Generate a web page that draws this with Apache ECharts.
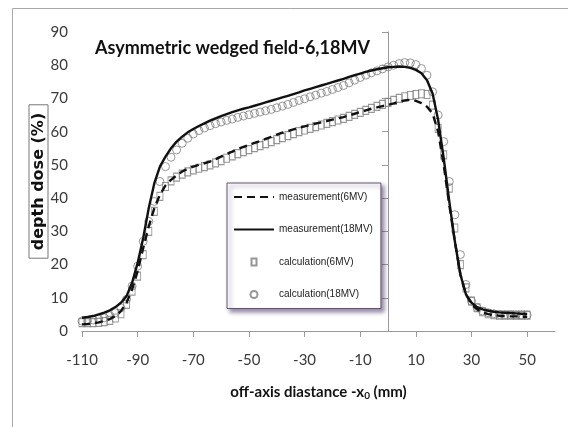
<!DOCTYPE html>
<html>
<head>
<meta charset="utf-8">
<script src="https://cdn.jsdelivr.net/npm/echarts@6/dist/echarts.min.js"></script>
<style>
  html, body { margin: 0; padding: 0; background: #fff; }
  #chart { width: 568px; height: 427px; }
</style>
</head>
<body>
<div id="chart"></div>
<script>
// off-axis positions (mm) shared by all four profiles
const xs = [
  -110, -108, -106, -104, -102, -100, -98, -96, -94, -92,
  -90, -88, -86, -84, -82, -80, -78, -76, -74, -72,
  -70, -68, -66, -64, -62, -60, -58, -56, -54, -52,
  -50, -48, -46, -44, -42, -40, -38, -36, -34, -32,
  -30, -28, -26, -24, -22, -20, -18, -16, -14, -12,
  -10, -8, -6, -4, -2, 0, 2, 4, 6, 8,
  10, 12, 14, 16, 18, 20, 22, 24, 26, 28,
  30, 32, 34, 36, 38, 40, 42, 44, 46, 48,
  50
];

// depth dose (%) — measured, 6 MV
const meas6 = [
  2.0, 2.1, 2.3, 2.6, 3.0, 3.6, 4.5, 6.0, 8.5, 12.5,
  18, 25, 31.5, 37, 41, 43.8, 45.5, 46.8, 48, 48.8,
  49.5, 50, 50.5, 51, 51.7, 52.5, 53.3, 54, 54.8, 55.4,
  56, 56.6, 57.2, 57.8, 58.4, 59.1, 59.7, 60.2, 60.7, 61.2,
  61.6, 62, 62.4, 62.8, 63.2, 63.6, 64, 64.4, 64.9, 65.4,
  65.9, 66.4, 66.9, 67.3, 67.7, 68.1, 68.5, 69, 69.4, 69.6,
  69.3, 68.6, 67.5, 65.5, 60, 50, 38, 27, 17, 11,
  8, 6.5, 5.6, 5.1, 4.8, 4.6, 4.5, 4.4, 4.4, 4.3,
  4.3
];

// depth dose (%) — measured, 18 MV
const meas18 = [
  4.0, 4.2, 4.5, 5.0, 5.5, 6.2, 7.2, 8.5, 10.5, 14.5,
  20.5, 28, 37, 44.5, 49.5, 52.5, 55, 57, 58.5, 59.8,
  60.8, 61.7, 62.5, 63.3, 64, 64.7, 65.3, 65.9, 66.4, 66.9,
  67.3, 67.8, 68.3, 68.8, 69.3, 69.8, 70.3, 70.8, 71.3, 71.8,
  72.4, 72.9, 73.4, 73.9, 74.4, 74.9, 75.4, 75.9, 76.5, 77.0,
  77.5, 78.0, 78.4, 78.8, 79.1, 79.4, 79.5, 79.6, 79.5, 79.2,
  78.6, 77.6, 75.5, 71.5, 63.5, 52, 39, 27, 17, 11,
  8.5, 7.2, 6.5, 6.1, 5.8, 5.6, 5.5, 5.4, 5.3, 5.2,
  5.1
];

// depth dose (%) — calculated, 6 MV
const calc6 = [
  2.5, 2.5, 2.5, 2.6, 2.8, 3.2, 3.9, 5.2, 8, 12,
  16.5, 23, 30, 36, 40.5, 43.5, 45.2, 46.3, 47.2, 47.9,
  48.5, 49, 49.5, 50, 50.6, 51.3, 52, 52.7, 53.4, 54,
  54.6, 55.2, 55.8, 56.4, 57, 57.6, 58.2, 58.8, 59.4, 60,
  60.5, 61, 61.5, 62, 62.5, 63, 63.5, 64, 64.6, 65.2,
  65.8, 66.4, 67, 67.6, 68.2, 68.8, 69.4, 70, 70.5, 70.9,
  71.2, 71.4, 71.2, 68, 61, 53, 43, 31, 20, 13,
  9, 7, 5.8, 5.2, 4.9, 4.8, 4.8, 4.8, 4.8, 4.8,
  4.8
];

// depth dose (%) — calculated, 18 MV
const calc18 = [
  3.0, 3.1, 3.3, 3.6, 4.0, 4.6, 5.5, 7.0, 9.5, 13.5,
  19.5, 27, 33, 39, 45, 49.5, 52.3, 54.5, 56.5, 58,
  59.3, 60.3, 61.1, 61.8, 62.4, 62.9, 63.4, 63.8, 64.3, 64.7,
  65.1, 65.5, 65.9, 66.3, 66.7, 67.2, 67.7, 68.2, 68.8, 69.4,
  69.9, 70.5, 71.0, 71.6, 72.1, 72.7, 73.3, 73.9, 74.7, 75.5,
  76.3, 77.0, 77.7, 78.3, 78.9, 79.5, 80.0, 80.5, 80.8, 80.7,
  80.2, 79, 77, 72, 65, 57, 45, 35, 23, 14,
  9, 7, 6, 5.5, 5.2, 5.0, 4.9, 4.9, 4.8, 4.8,
  4.8
];

const seriesNames = ['measurement(6MV)', 'measurement(18MV)', 'calculation(6MV)', 'calculation(18MV)'];
const xTicks = [-110, -90, -70, -50, -30, -10, 10, 30, 50];

const pairs = (ys) => xs.map((x, i) => [x, ys[i]]);

const labelFont = {
  fontFamily: 'Lato',
  fontSize: 15,
  color: '#3a3a3a'
};

const chart = echarts.init(document.getElementById('chart'), null, { renderer: 'canvas' });

chart.setOption({
  animation: false,
  backgroundColor: '#fff',
  title: {
    text: 'Asymmetric wedged field-6,18MV',
    left: 95,
    top: 39,
    padding: 0,
    textStyle: {
      fontFamily: 'Lato',
      fontWeight: 'bold',
      fontSize: 18,
      color: '#111'
    }
  },
  graphic: [{
    // outer chart-area frame (top and left edges visible)
    type: 'rect',
    shape: { x: 12.5, y: 8.5, width: 700, height: 600 },
    style: { fill: 'none', stroke: '#a8a8a8', lineWidth: 1 },
    silent: true,
    z: -1
  }],
  legend: {
    orient: 'vertical',
    left: 227,
    top: 183,
    padding: [7, 8, 7, 6],
    itemWidth: 40,
    itemHeight: 7,
    itemGap: 18.5,
    backgroundColor: '#fff',
    borderColor: '#5e566c',
    borderWidth: 1,
    shadowColor: 'rgba(70,50,100,0.55)',
    shadowBlur: 4,
    shadowOffsetX: 3,
    shadowOffsetY: 3,
    textStyle: {
      fontFamily: "'Liberation Sans', Arial, sans-serif",
      fontSize: 10,
      lineHeight: 14,
      color: '#222'
    },
    data: [
      { name: seriesNames[0], itemStyle: { opacity: 0 } },
      { name: seriesNames[1], itemStyle: { opacity: 0 } },
      { name: seriesNames[2], icon: 'path://M0,0 L5,0 L5,7 L0,7 Z' },
      { name: seriesNames[3], icon: 'circle' }
    ]
  },
  grid: { left: 82, right: 13, top: 32, bottom: 96 },
  xAxis: {
    type: 'value',
    min: -110,
    max: 60,
    name: '{a|off-axis diastance -x}{s|0}{a| (mm)}',
    nameLocation: 'middle',
    nameGap: 53,
    nameMoveOverlap: false,
    nameTextStyle: {
      rich: {
        a: { fontFamily: 'Lato', fontWeight: 'bold', fontSize: 15, color: '#111' },
        s: { fontFamily: 'Lato', fontWeight: 'bold', fontSize: 10, color: '#111', verticalAlign: 'bottom', padding: [7, 0, 0, 0] }
      }
    },
    splitLine: { show: false },
    axisLine: { onZero: false, lineStyle: { color: '#9a9a9a', width: 1 } },
    axisTick: { show: true, customValues: xTicks, length: 6, lineStyle: { color: '#9a9a9a' } },
    axisLabel: Object.assign({ customValues: xTicks, margin: 22 }, labelFont)
  },
  yAxis: [{
    type: 'value',
    min: 0,
    max: 90,
    interval: 10,
    name: 'depth dose (%)',
    nameLocation: 'middle',
    nameRotate: 90,
    nameGap: 34,
    nameMoveOverlap: false,
    nameTextStyle: {
      fontFamily: 'DejaVu Sans',
      fontWeight: 'bold',
      fontSize: 16,
      color: '#111',
      borderColor: '#777',
      borderWidth: 1,
      padding: [2, 8, 1, 8]
    },
    splitLine: { show: false },
    axisLine: { show: false, onZero: false },
    axisTick: { show: false },
    axisLabel: Object.assign({ margin: 14 }, labelFont)
  }, {
    // value axis drawn through x = 0
    type: 'value',
    min: 0,
    max: 90,
    interval: 10,
    position: 'left',
    splitLine: { show: false },
    axisLine: { show: true, onZero: true, lineStyle: { color: '#9a9a9a', width: 1 } },
    axisTick: { show: true, inside: false, length: 6, lineStyle: { color: '#9a9a9a' } },
    axisLabel: { show: false }
  }],
  series: [
    {
      name: seriesNames[2],
      type: 'scatter',
      data: pairs(calc6),
      symbol: 'rect',
      symbolSize: [6, 8],
      itemStyle: { color: 'rgba(255,255,255,0)', borderColor: '#7c7c7c', borderWidth: 1 },
      z: 2
    },
    {
      name: seriesNames[3],
      type: 'scatter',
      data: pairs(calc18),
      symbol: 'circle',
      symbolSize: 8,
      itemStyle: { color: 'rgba(255,255,255,0)', borderColor: '#7c7c7c', borderWidth: 1 },
      z: 2
    },
    {
      name: seriesNames[0],
      type: 'line',
      data: pairs(meas6),
      showSymbol: false,
      symbol: 'none',
      lineStyle: { color: '#111', width: 2.4, type: [8, 5] },
      itemStyle: { color: '#111' },
      z: 3
    },
    {
      name: seriesNames[1],
      type: 'line',
      data: pairs(meas18),
      showSymbol: false,
      symbol: 'none',
      lineStyle: { color: '#111', width: 2.4 },
      itemStyle: { color: '#111' },
      z: 3
    }
  ]
});
</script>
</body>
</html>
